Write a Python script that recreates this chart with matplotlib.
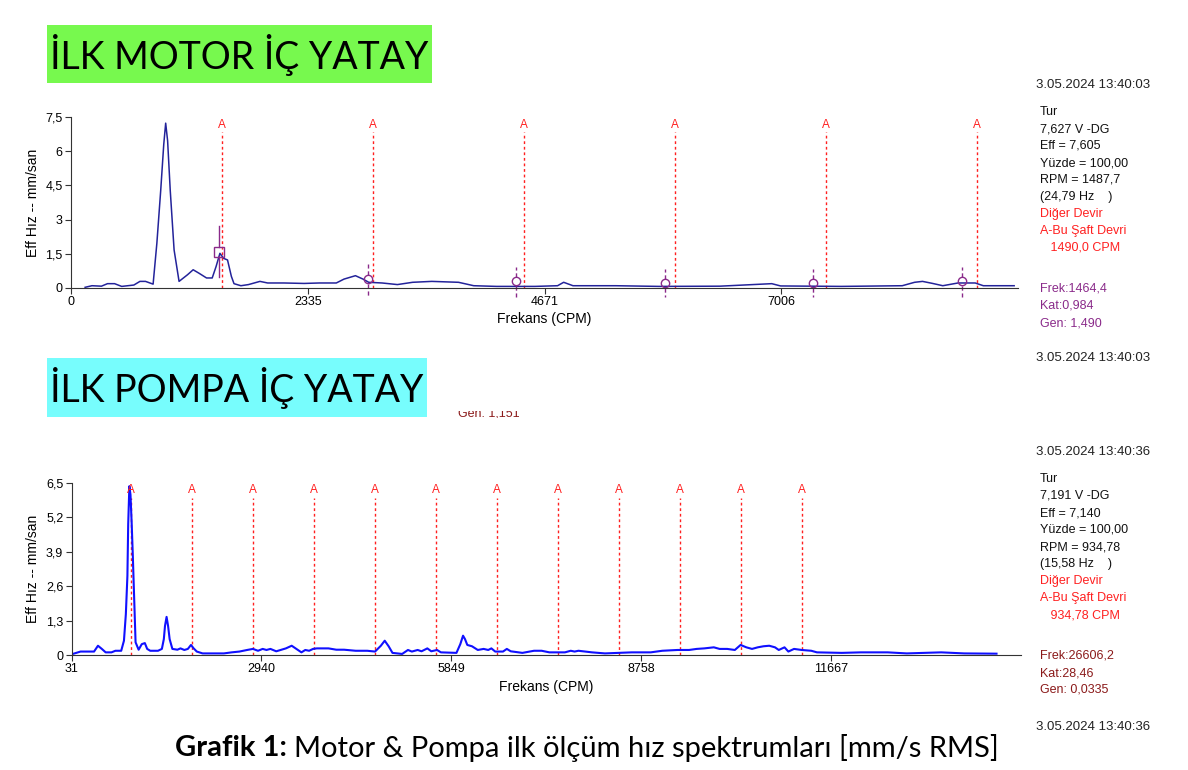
import matplotlib.pyplot as plt
from matplotlib.patches import Rectangle

W, H = 1188, 770

# --- top spectrum (motor) ---
motor_cpm = [139, 207, 300, 360, 430, 500, 620, 680, 735, 810, 847, 885, 915, 934, 953,
             979, 1017, 1066, 1149, 1205, 1262, 1337, 1393, 1431, 1469, 1506, 1544, 1582,
             1608, 1676, 1751, 1864, 1940, 2100, 2300, 2450, 2617, 2693, 2806, 2881, 2937,
             3069, 3220, 3370, 3559, 3823, 3973, 4199, 4576, 4800, 4860, 4952, 5375, 5800,
             6400, 6913, 7000, 7600, 8200, 8322, 8400, 8500, 8600, 8750, 8920, 9000, 9304]
motor_amp = [0.03, 0.10, 0.08, 0.19, 0.19, 0.07, 0.13, 0.29, 0.29, 0.17, 1.96, 4.28, 6.30, 7.23, 6.46,
             4.28, 1.67, 0.29, 0.58, 0.80, 0.65, 0.44, 0.44, 0.94, 1.52, 1.30, 1.23, 0.51,
             0.19, 0.10, 0.15, 0.29, 0.22, 0.22, 0.20, 0.22, 0.22, 0.39, 0.54, 0.39, 0.25,
             0.22, 0.15, 0.25, 0.29, 0.25, 0.10, 0.07, 0.07, 0.10, 0.25, 0.10, 0.10, 0.07,
             0.08, 0.19, 0.09, 0.07, 0.10, 0.25, 0.29, 0.20, 0.10, 0.22, 0.22, 0.10, 0.10]
motor_rpm = 1490.0
motor_cursor = 1464.4
motor_cursor_amp = 1.6
motor_harm_amp = [0.39, 0.29, 0.20, 0.20, 0.29]
motor_yticks = [0, 1.5, 3, 4.5, 6, 7.5]
motor_ylabels = ["0", "1,5", "3", "4,5", "6", "7,5"]
motor_xticks = [0, 2335, 4671, 7006]

# --- bottom spectrum (pump) ---
pump_cpm = [49, 168, 375, 435, 494, 553, 642, 702, 791, 833, 862, 886, 898, 916, 933, 951,
            969, 993, 1011, 1058, 1106, 1153, 1189, 1236, 1355, 1414, 1444, 1462, 1486, 1509,
            1533, 1575, 1652, 1699, 1758, 1812, 1860, 1901, 1949, 2038, 2364, 2483, 2602,
            2720, 2809, 2887, 2958, 3017, 3077, 3166, 3314, 3403, 3492, 3552, 3611, 3670,
            3730, 3789, 3967, 4086, 4205, 4383, 4561, 4680, 4769, 4828, 4888, 4947, 5095,
            5184, 5244, 5333, 5392, 5481, 5541, 5630, 5689, 5927, 5986, 6028, 6058, 6093,
            6165, 6254, 6343, 6414, 6462, 6521, 6640, 6699, 6759, 6937, 7115, 7232, 7351,
            7588, 7678, 7737, 7796, 8004, 8202, 8612, 8904, 9080, 9314, 9490, 9607, 9724,
            9870, 9958, 10075, 10192, 10280, 10368, 10455, 10543, 10631, 10719, 10807,
            10865, 10953, 11012, 11099, 11216, 11363, 11450, 11831, 12124, 12533, 12826,
            13353, 13704, 14201]
pump_amp = [0.04, 0.13, 0.13, 0.35, 0.23, 0.10, 0.10, 0.16, 0.16, 0.54, 1.54, 2.99, 4.93, 6.38, 6.06, 5.00,
            3.74, 1.86, 0.48, 0.20, 0.41, 0.45, 0.23, 0.16, 0.16, 0.23, 0.60, 1.10, 1.44, 1.10,
            0.60, 0.23, 0.20, 0.25, 0.19, 0.23, 0.38, 0.25, 0.13, 0.06, 0.06, 0.10, 0.13,
            0.19, 0.23, 0.16, 0.23, 0.19, 0.23, 0.14, 0.25, 0.35, 0.20, 0.10, 0.19, 0.16,
            0.23, 0.25, 0.25, 0.20, 0.20, 0.16, 0.16, 0.13, 0.35, 0.54, 0.33, 0.08, 0.04,
            0.19, 0.13, 0.19, 0.14, 0.25, 0.14, 0.19, 0.10, 0.08, 0.41, 0.73, 0.60, 0.38,
            0.33, 0.19, 0.23, 0.19, 0.25, 0.13, 0.13, 0.23, 0.14, 0.08, 0.16, 0.16, 0.10,
            0.10, 0.16, 0.13, 0.16, 0.10, 0.06, 0.10, 0.10, 0.16, 0.19, 0.19, 0.23, 0.25,
            0.29, 0.23, 0.23, 0.19, 0.38, 0.29, 0.23, 0.29, 0.33, 0.35, 0.29,
            0.19, 0.29, 0.13, 0.23, 0.19, 0.16, 0.10, 0.08, 0.10, 0.10, 0.06,
            0.10, 0.06, 0.05]
pump_rpm = 934.78
pump_yticks = [0, 1.3, 2.6, 3.9, 5.2, 6.5]
pump_ylabels = ["0", "1,3", "2,6", "3,9", "5,2", "6,5"]
pump_xticks = [31, 2940, 5849, 8758, 11667]

motor_info = ["Tur", "7,627 V -DG", "Eff = 7,605", "Yüzde = 100,00", "RPM = 1487,7", "(24,79 Hz    )"]
motor_info_red = ["Diğer Devir", "A-Bu Şaft Devri", "   1490,0 CPM"]
motor_cursor_info = ["Frek:1464,4", "Kat:0,984", "Gen: 1,490"]
pump_info = ["Tur", "7,191 V -DG", "Eff = 7,140", "Yüzde = 100,00", "RPM = 934,78", "(15,58 Hz    )"]
pump_info_red = ["Diğer Devir", "A-Bu Şaft Devri", "   934,78 CPM"]
pump_cursor_info = ["Frek:26606,2", "Kat:28,46", "Gen: 0,0335"]

plt.rcParams['font.family'] = ['Liberation Sans', 'DejaVu Sans']
red = '#ff2020'
purple = '#8a2a8a'
fs = 9


def fx(x):
    return x / W


def fy(y):
    return 1 - y / H


def style_axes(ax, ylim, yticks, ylabels, xlim, xticks):
    ax.set_xlim(xlim)
    ax.set_ylim(ylim)
    for s in ['top', 'right']:
        ax.spines[s].set_visible(False)
    ax.spines['left'].set_color('#333333')
    ax.spines['bottom'].set_color('#333333')
    ax.set_yticks(yticks)
    ax.set_yticklabels(ylabels)
    ax.set_xticks(xticks)
    ax.set_xticklabels([str(t) for t in xticks])
    ax.tick_params(labelsize=fs, length=4, color='#333333', pad=2)
    ax.set_xlabel('Frekans (CPM)', fontsize=fs + 1, labelpad=3)
    ax.set_ylabel('Eff Hız -- mm/san', fontsize=fs + 1, labelpad=4)
    ax.patch.set_alpha(0)


fig = plt.figure(figsize=(W / 100, H / 100), dpi=100)

# ---- top plot ----
ax1 = fig.add_axes([fx(71), fy(288), fx(1018 - 71), (288 - 117) / H])
for k in range(1, 7):
    xr = k * motor_rpm
    ax1.plot([xr, xr], [0, 6.85], color=red, lw=1, ls=(0, (2, 2)))
    ax1.text(xr, 7.15, 'A', color=red, fontsize=8.5, ha='center', va='center')
ax1.plot(motor_cpm, motor_amp, color='#23239a', lw=1.1)
ax1.plot([motor_cursor] * 2, [motor_cursor_amp + 0.2, 2.7], color=purple, lw=1)
ax1.plot([motor_cursor] * 2, [0.5, motor_cursor_amp - 0.2], color=purple, lw=1)
ax1.plot(motor_cursor, motor_cursor_amp, marker='s', ms=7, mfc='none', mec=purple, mew=1)
for k, a in enumerate(motor_harm_amp, start=2):
    xh = k * motor_cursor
    ax1.plot([xh, xh], [a + 0.2, a + 0.65], color=purple, lw=1, ls=(0, (3, 2)), clip_on=False)
    ax1.plot([xh, xh], [a - 0.2, -0.4], color=purple, lw=1, ls=(0, (3, 2)), clip_on=False)
    ax1.plot(xh, a, marker='o', ms=6, mfc='none', mec=purple, mew=1)
style_axes(ax1, (0, 7.5), motor_yticks, motor_ylabels, (0, 9342), motor_xticks)

# ---- bottom plot ----
ax2 = fig.add_axes([fx(71.6), fy(655), fx(1021 - 71.6), (655 - 483) / H])
for k in range(1, 13):
    xr = k * pump_rpm
    ax2.plot([xr, xr], [0, 5.95], color=red, lw=1, ls=(0, (2, 2)))
    ax2.text(xr, 6.22, 'A', color=red, fontsize=8.5, ha='center', va='center')
ax2.plot(pump_cpm, pump_amp, color='#1010ff', lw=1.5)
style_axes(ax2, (0, 6.5), pump_yticks, pump_ylabels, (31, 14576), pump_xticks)

# ---- headers ----
fig.add_artist(Rectangle((fx(47), fy(83)), fx(432 - 47), (83 - 25) / H,
                         transform=fig.transFigure, color='#77f94e', lw=0))
fig.text(fx(239), fy(55), 'İLK MOTOR İÇ YATAY', fontsize=27, family='Lato',
         ha='center', va='center')
fig.add_artist(Rectangle((fx(47), fy(417)), fx(427 - 47), (417 - 358) / H,
                         transform=fig.transFigure, color='#77fdfd', lw=0))
fig.text(fx(237), fy(388), 'İLK POMPA İÇ YATAY', fontsize=27, family='Lato',
         ha='center', va='center')

# cut-off cursor text leftover
t = fig.text(fx(458), fy(413), 'Gen: 1,151', fontsize=fs, color='#8b1a1a', va='center')
t.set_clip_path(Rectangle((fx(450), fy(418)), fx(100), 7 / H, transform=fig.transFigure))

for y, s in [(85, '3.05.2024 13:40:03'), (358, '3.05.2024 13:40:03'),
             (452, '3.05.2024 13:40:36'), (727, '3.05.2024 13:40:36')]:
    fig.text(fx(1150), fy(y), s, fontsize=fs + 0.5, color='#222222', ha='right', va='center')


def info_block(x, y0, lines, red_lines, cursor_lines, y_cursor, cursor_color):
    y = y0
    for s in lines:
        fig.text(fx(x), fy(y), s, fontsize=fs, color='#111111', va='center')
        y += 17
    for s in red_lines:
        fig.text(fx(x), fy(y), s, fontsize=fs, color=red, va='center')
        y += 17
    y = y_cursor
    for s in cursor_lines:
        fig.text(fx(x), fy(y), s, fontsize=fs, color=cursor_color, va='center')
        y += 17


info_block(1040, 112, motor_info, motor_info_red, motor_cursor_info, 289, purple)
info_block(1040, 479, pump_info, pump_info_red, pump_cursor_info, 656, '#8b1a1a')

# caption: bold part then regular part right after it
cap1 = fig.text(fx(175), fy(748), 'Grafik 1:', fontsize=21, family='Lato', fontweight='bold',
                va='center')
fig.canvas.draw()
x_end = cap1.get_window_extent().x1
fig.text((x_end + 7) / W, fy(748), 'Motor & Pompa ilk ölçüm hız spektrumları [mm/s RMS]',
         fontsize=21, family='Lato', va='center')

fig.savefig('out.png', dpi=100)
